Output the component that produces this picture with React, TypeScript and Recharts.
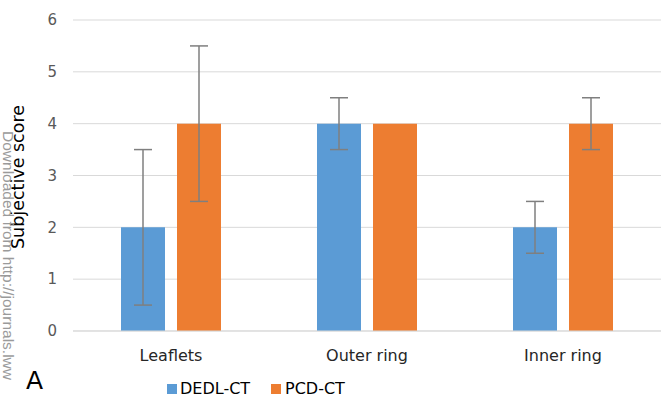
import React from 'react';
import { BarChart, Bar, XAxis, YAxis, CartesianGrid, ErrorBar, Legend } from 'recharts';

const categories = ['Leaflets', 'Outer ring', 'Inner ring'];
const dedlValues = [2, 4, 2];
const pcdValues = [4, 4, 4];
const dedlErrors = [1.5, 0.5, 0.5];
const pcdErrors = [1.5, 0, 0.5];
const yTicks = [0, 1, 2, 3, 4, 5, 6];

const data = categories.map((c, i) => ({
  name: c,
  dedl: dedlValues[i],
  pcd: pcdValues[i],
  dedlErr: dedlErrors[i],
  pcdErr: pcdErrors[i],
}));

const BLUE = '#5B9BD5';
const ORANGE = '#ED7D31';
const FONT = '"DejaVu Sans", Verdana, sans-serif';

const LegendContent = () => (
  <div style={{ position: 'relative', width: 661, height: 32, fontFamily: FONT, fontSize: 16, color: '#000' }}>
    <div style={{ position: 'absolute', left: 167, top: 13, width: 10, height: 10, background: BLUE }} />
    <div style={{ position: 'absolute', left: 180, top: 8, lineHeight: '20px' }}>DEDL-CT</div>
    <div style={{ position: 'absolute', left: 271, top: 13, width: 10, height: 10, background: ORANGE }} />
    <div style={{ position: 'absolute', left: 285, top: 8, lineHeight: '20px' }}>PCD-CT</div>
  </div>
);

export default function App() {
  return (
    <div style={{ position: 'absolute', left: 0, top: 0, width: 661, height: 403, background: '#fff', overflow: 'hidden' }}>
      <BarChart
        width={661}
        height={403}
        data={data}
        margin={{ top: 20, right: 0, left: 0, bottom: 0 }}
        barSize={44}
        barGap={12}
      >
        <CartesianGrid vertical={false} stroke="#d9d9d9" strokeWidth={1} />
        <XAxis
          dataKey="name"
          height={40}
          axisLine={{ stroke: '#d9d9d9' }}
          tickLine={false}
          tickSize={0}
          tickMargin={19}
          tick={{ fill: '#262626', fontSize: 16, fontFamily: FONT }}
        />
        <YAxis
          width={73}
          domain={[0, 6]}
          ticks={yTicks}
          axisLine={false}
          tickLine={false}
          tickSize={0}
          tickMargin={16}
          tick={{ fill: '#595959', fontSize: 15, fontFamily: FONT }}
        />
        <Legend verticalAlign="bottom" content={<LegendContent />} wrapperStyle={{ left: 0, width: 661, height: 32 }} />
        <Bar dataKey="dedl" name="DEDL-CT" fill={BLUE} isAnimationActive={false}>
          <ErrorBar dataKey="dedlErr" width={9} stroke="#7f7f7f" strokeWidth={1.5} direction="y" />
        </Bar>
        <Bar dataKey="pcd" name="PCD-CT" fill={ORANGE} isAnimationActive={false}>
          <ErrorBar dataKey="pcdErr" width={9} stroke="#7f7f7f" strokeWidth={1.5} direction="y" />
        </Bar>
      </BarChart>
      <svg width={661} height={403} style={{ position: 'absolute', left: 0, top: 0, pointerEvents: 'none' }}>
        <text
          x={18}
          y={177}
          transform="rotate(-90 18 177)"
          textAnchor="middle"
          dominantBaseline="central"
          fontFamily={FONT}
          fontSize={17.5}
          fill="#000"
        >
          Subjective score
        </text>
        <text
          x={3}
          y={131}
          transform="rotate(90 3 131)"
          textAnchor="start"
          dominantBaseline="alphabetic"
          fontFamily='"Liberation Sans", Arial, sans-serif'
          fontSize={15.5}
          fill="#9a9a9a"
        >
          Downloaded from http://journals.lww
        </text>
        <text x={26} y={389} fontFamily={FONT} fontSize={25} fill="#000">
          A
        </text>
      </svg>
    </div>
  );
}
